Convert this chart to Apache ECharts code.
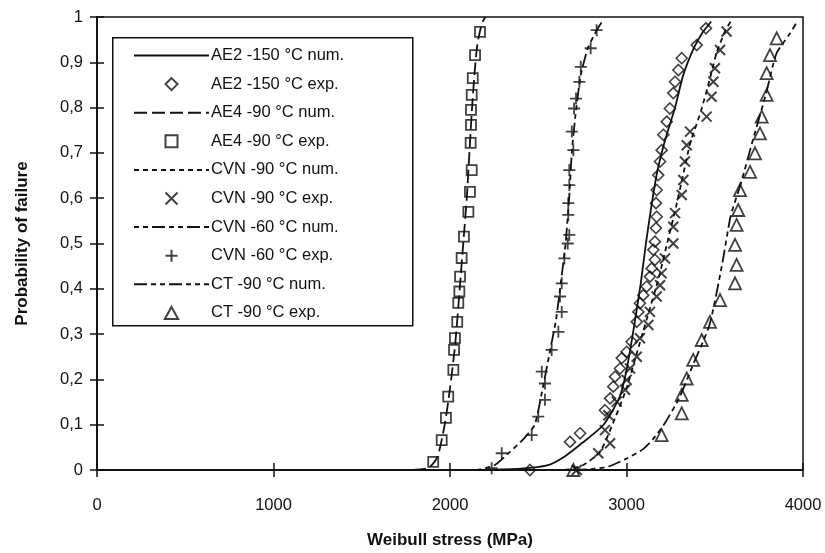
<!DOCTYPE html>
<html>
<head>
<meta charset="utf-8">
<script src="https://cdn.jsdelivr.net/npm/echarts@6/dist/echarts.min.js"></script>
<style>
  html, body { margin: 0; padding: 0; background: #fff; }
  #chart { width: 825px; height: 553px; }
</style>
</head>
<body>
<div id="chart"></div>
<script>
// tick labels
const xTickLabels = ["0", "1000", "2000", "3000", "4000"];
const yTickLabels = ["0", "0,1", "0,2", "0,3", "0,4", "0,5", "0,6", "0,7", "0,8", "0,9", "1"];

// AE2 -150 °C
const ae2NumStress = [2170, 2400, 2550, 2650, 2750, 2870, 2960, 3000, 3040, 3080, 3110, 3140, 3175, 3220, 3275, 3320, 3380, 3430, 3480];
const ae2NumProb = [0, 0.003, 0.01, 0.03, 0.06, 0.1, 0.16, 0.22, 0.31, 0.41, 0.5, 0.58, 0.66, 0.73, 0.8, 0.87, 0.93, 0.965, 0.99];
const ae2ExpStress = [2453, 2680, 2737, 2878, 2907, 2925, 2935, 2963, 2973, 3001, 3029, 3058, 3067, 3076, 3095, 3114, 3133, 3142, 3161, 3152, 3161, 3167, 3171, 3167, 3171, 3180, 3190, 3199, 3209, 3228, 3246, 3265, 3275, 3294, 3313, 3398, 3450];
const ae2ExpProb = [0, 0.062, 0.081, 0.132, 0.158, 0.184, 0.206, 0.224, 0.247, 0.261, 0.283, 0.327, 0.349, 0.368, 0.386, 0.405, 0.427, 0.445, 0.464, 0.486, 0.504, 0.534, 0.559, 0.589, 0.618, 0.651, 0.681, 0.706, 0.74, 0.769, 0.798, 0.832, 0.857, 0.883, 0.909, 0.938, 0.975];

// AE4 -90 °C
const ae4NumStress = [1790, 1880, 1930, 1970, 2000, 2030, 2055, 2075, 2095, 2110, 2125, 2140, 2155, 2180, 2200];
const ae4NumProb = [0, 0.005, 0.03, 0.1, 0.18, 0.28, 0.4, 0.5, 0.6, 0.7, 0.8, 0.88, 0.94, 0.985, 1];
const ae4ExpStress = [1905, 1953, 1977, 1990, 2019, 2023, 2028, 2041, 2047, 2053, 2057, 2066, 2079, 2104, 2113, 2123, 2117, 2119, 2119, 2123, 2129, 2142, 2170];
const ae4ExpProb = [0.018, 0.066, 0.115, 0.162, 0.221, 0.265, 0.291, 0.327, 0.369, 0.394, 0.427, 0.468, 0.515, 0.57, 0.614, 0.662, 0.722, 0.762, 0.795, 0.828, 0.865, 0.916, 0.967];

// CVN -90 °C
const cvn90NumStress = [2650, 2750, 2850, 2920, 3000, 3060, 3120, 3180, 3230, 3280, 3320, 3360, 3420, 3470, 3510, 3560, 3590];
const cvn90NumProb = [0, 0.01, 0.04, 0.1, 0.18, 0.26, 0.34, 0.42, 0.5, 0.58, 0.65, 0.72, 0.79, 0.86, 0.92, 0.97, 0.99];
const cvn90ExpStress = [2718, 2840, 2907, 2878, 2897, 2945, 2992, 3001, 3020, 3058, 3076, 3124, 3133, 3171, 3190, 3199, 3218, 3265, 3265, 3275, 3313, 3322, 3331, 3341, 3360, 3454, 3482, 3492, 3501, 3530, 3567];
const cvn90ExpProb = [0, 0.037, 0.059, 0.088, 0.121, 0.151, 0.177, 0.199, 0.224, 0.25, 0.291, 0.32, 0.349, 0.383, 0.408, 0.434, 0.467, 0.5, 0.537, 0.567, 0.607, 0.64, 0.681, 0.717, 0.747, 0.78, 0.824, 0.857, 0.887, 0.927, 0.968];

// CVN -60 °C
const cvn60NumStress = [2150, 2250, 2340, 2420, 2480, 2520, 2560, 2600, 2630, 2655, 2675, 2690, 2710, 2740, 2780, 2830, 2870];
const cvn60NumProb = [0, 0.01, 0.04, 0.07, 0.1, 0.17, 0.25, 0.33, 0.42, 0.5, 0.6, 0.7, 0.78, 0.87, 0.93, 0.97, 0.995];
const cvn60ExpStress = [2236, 2293, 2463, 2500, 2538, 2538, 2520, 2576, 2614, 2633, 2623, 2633, 2648, 2667, 2676, 2670, 2670, 2676, 2676, 2699, 2690, 2703, 2714, 2733, 2741, 2797, 2831];
const cvn60ExpProb = [0.004, 0.037, 0.077, 0.118, 0.155, 0.191, 0.217, 0.265, 0.305, 0.349, 0.383, 0.412, 0.467, 0.5, 0.519, 0.563, 0.589, 0.629, 0.662, 0.706, 0.747, 0.798, 0.82, 0.857, 0.89, 0.931, 0.971];

// CT -90 °C
const ctNumStress = [2700, 2800, 2900, 3000, 3090, 3150, 3220, 3300, 3380, 3470, 3540, 3590, 3650, 3710, 3790, 3850, 3920, 3960];
const ctNumProb = [0, 0.002, 0.008, 0.025, 0.045, 0.068, 0.105, 0.16, 0.235, 0.32, 0.45, 0.56, 0.635, 0.72, 0.83, 0.92, 0.96, 0.985];
const ctExpStress = [2699, 3199, 3313, 3313, 3341, 3378, 3426, 3473, 3530, 3615, 3624, 3615, 3624, 3633, 3643, 3700, 3728, 3756, 3766, 3794, 3794, 3813, 3851];
const ctExpProb = [0, 0.077, 0.125, 0.166, 0.202, 0.243, 0.287, 0.327, 0.375, 0.412, 0.453, 0.497, 0.541, 0.574, 0.618, 0.658, 0.699, 0.743, 0.78, 0.828, 0.876, 0.916, 0.953];

const zip = (xs, ys) => xs.map((x, i) => [x, ys[i]]);

const ink = "#111";
const font = "Liberation Sans, Arial, sans-serif";

function numLine(name, xs, ys, dash) {
  return {
    name: name,
    type: "line",
    data: zip(xs, ys),
    showSymbol: false,
    symbol: "none",
    smooth: 0.2,
    lineStyle: { color: ink, width: 1.8, type: dash },
    // keeps the legend icon a plain line
    itemStyle: { color: "transparent", borderColor: "transparent", borderWidth: 0 },
    z: 2,
  };
}

function expPoints(name, xs, ys, symbol, size, width) {
  return {
    name: name,
    type: "scatter",
    data: zip(xs, ys),
    symbol: symbol,
    symbolSize: size,
    itemStyle: { color: "transparent", borderColor: ink, borderWidth: width },
    z: 3,
  };
}

const diamondPath = "path://M5,0L10,5L5,10L0,5Z";
const squarePath = "path://M0,0L10,0L10,10L0,10Z";
const crossPath = "path://M0,0L10,10M0,10L10,0";
const plusPath = "path://M5,0L5,10M0,5L10,5";
const trianglePath = "path://M5,0L10,9L0,9Z";

const chart = echarts.init(document.getElementById("chart"));
chart.setOption({
  backgroundColor: "#fff",
  animation: false,
  grid: {
    left: 97,
    right: 22,
    top: 17,
    bottom: 83,
    outerBoundsMode: "none",
    show: true,
    borderColor: ink,
    borderWidth: 1.5,
  },
  graphic: [
    {
      type: "rect",
      left: 112,
      top: 37,
      shape: { width: 300, height: 288 },
      style: { fill: "#fff", stroke: ink, lineWidth: 1.5 },
      z: 5,
    },
  ],
  legend: {
    orient: "vertical",
    left: 133,
    top: 47,
    itemWidth: 75,
    itemHeight: 12,
    itemGap: 11.6,
    padding: 0,
    z: 10,
    textStyle: { color: ink, fontSize: 16.5, fontFamily: font, padding: [0, 0, 0, -3] },
    data: [
      "AE2 -150 °C num.",
      "AE2 -150 °C exp.",
      "AE4 -90 °C num.",
      "AE4 -90 °C exp.",
      "CVN -90 °C num.",
      "CVN -90 °C exp.",
      "CVN -60 °C num.",
      "CVN -60 °C exp.",
      "CT -90 °C num.",
      "CT -90 °C exp.",
    ],
  },
  xAxis: [
    {
      type: "value",
      min: 0,
      max: 4000,
      interval: 1000,
      name: "Weibull stress (MPa)",
      nameLocation: "middle",
      nameGap: 62,
      nameTextStyle: { color: ink, fontSize: 17, fontWeight: "bold", fontFamily: font },
      axisLine: { lineStyle: { color: ink, width: 1.8 } },
      axisTick: { length: 7, lineStyle: { color: ink, width: 1.5 } },
      axisLabel: {
        margin: 27,
        color: ink,
        fontSize: 16.5,
        fontFamily: font,
        formatter: (v, i) => xTickLabels[i],
      },
      splitLine: { show: false },
    },
    {
      type: "value",
      position: "bottom",
      min: 0,
      max: 4000,
      interval: 1000,
      axisLine: { show: false },
      axisTick: { inside: true, length: 7, lineStyle: { color: ink, width: 1.5 } },
      axisLabel: { show: false },
      splitLine: { show: false },
    },
  ],
  yAxis: [
    {
      type: "value",
      min: 0,
      max: 1,
      interval: 0.1,
      name: "Probability of failure",
      nameLocation: "middle",
      nameGap: 66,
      nameTextStyle: { color: ink, fontSize: 17, fontWeight: "bold", fontFamily: font },
      axisLine: { show: true, lineStyle: { color: ink, width: 1.8 } },
      axisTick: { show: true, length: 7, lineStyle: { color: ink, width: 1.5 } },
      axisLabel: {
        margin: 14,
        color: ink,
        fontSize: 16.5,
        fontFamily: font,
        formatter: (v, i) => yTickLabels[i],
      },
      splitLine: { show: false },
    },
    {
      type: "value",
      position: "left",
      min: 0,
      max: 1,
      interval: 0.1,
      axisLine: { show: false },
      axisTick: { show: true, inside: true, length: 7, lineStyle: { color: ink, width: 1.5 } },
      axisLabel: { show: false },
      splitLine: { show: false },
    },
  ],
  series: [
    numLine("AE2 -150 °C num.", ae2NumStress, ae2NumProb, "solid"),
    expPoints("AE2 -150 °C exp.", ae2ExpStress, ae2ExpProb, diamondPath, 11, 1.6),
    numLine("AE4 -90 °C num.", ae4NumStress, ae4NumProb, [13, 5]),
    expPoints("AE4 -90 °C exp.", ae4ExpStress, ae4ExpProb, squarePath, 10, 1.8),
    numLine("CVN -90 °C num.", cvn90NumStress, cvn90NumProb, [5, 4]),
    expPoints("CVN -90 °C exp.", cvn90ExpStress, cvn90ExpProb, crossPath, 10, 2),
    numLine("CVN -60 °C num.", cvn60NumStress, cvn60NumProb, [5, 4, 5, 4, 13, 4]),
    expPoints("CVN -60 °C exp.", cvn60ExpStress, cvn60ExpProb, plusPath, 12, 1.8),
    numLine("CT -90 °C num.", ctNumStress, ctNumProb, [13, 4, 5, 4, 5, 4]),
    expPoints("CT -90 °C exp.", ctExpStress, ctExpProb, trianglePath, 12, 1.8),
  ],
});
</script>
</body>
</html>
